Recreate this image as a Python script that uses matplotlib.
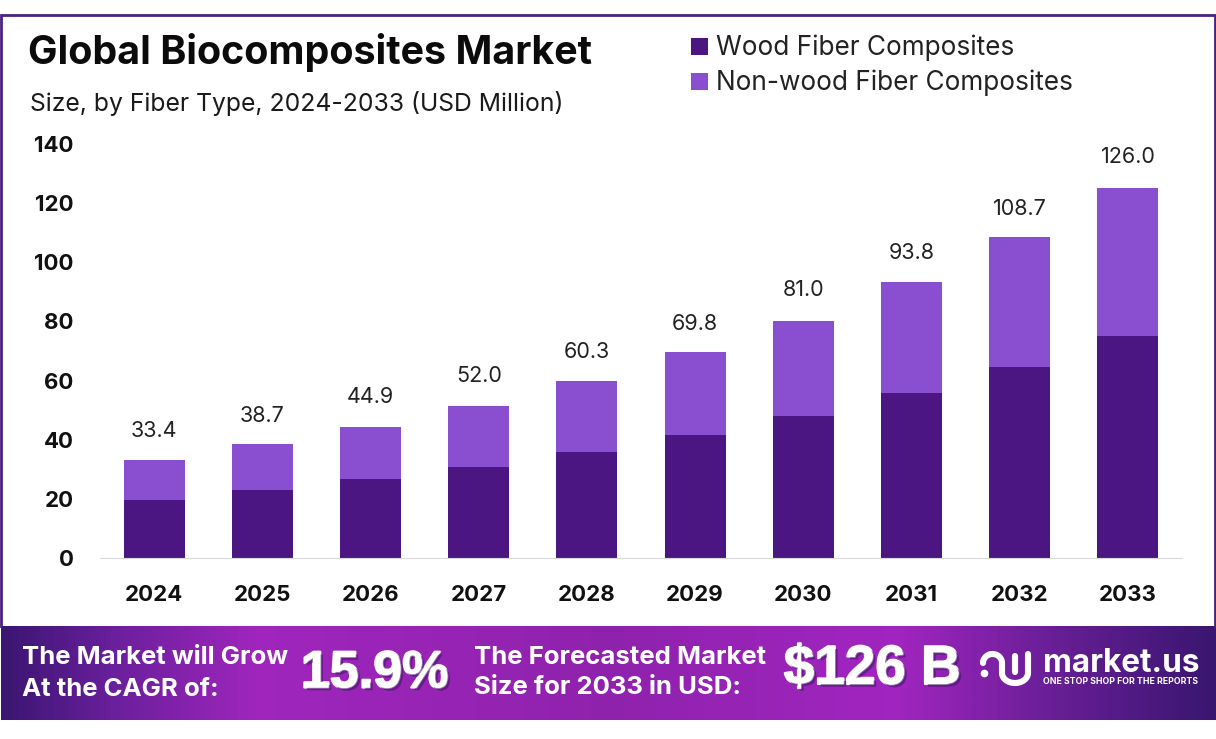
import matplotlib
matplotlib.use("Agg")
import matplotlib.pyplot as plt
import matplotlib.patheffects as pe
from matplotlib.colors import LinearSegmentedColormap
import numpy as np

years = ["2024", "2025", "2026", "2027", "2028", "2029", "2030", "2031", "2032", "2033"]
wood = [19.6, 23.0, 26.7, 30.8, 35.9, 41.6, 48.0, 55.8, 64.6, 75.1]
non_wood = [13.5, 15.4, 17.5, 20.5, 24.1, 27.9, 32.3, 37.7, 43.8, 49.9]
totals = [33.4, 38.7, 44.9, 52.0, 60.3, 69.8, 81.0, 93.8, 108.7, 126.0]
y_ticks = [0, 20, 40, 60, 80, 100, 120, 140]

DARK = "#4c1682"
LIGHT = "#8a4fd0"
FRAME = "#4a2183"
FONT = "Inter"
W, H = 1216, 739

plt.rcParams["font.family"] = [FONT, "DejaVu Sans"]
fig = plt.figure(figsize=(W / 100, H / 100), dpi=100, facecolor="white")

# overlay in pixel coordinates for frame, banner and headings
bg = fig.add_axes([0, 0, 1, 1])
bg.set_xlim(0, W)
bg.set_ylim(H, 0)
bg.axis("off")

# frame
bg.plot([1, 1, 1214.5, 1214.5], [626, 15, 15, 626], color=FRAME, lw=2, solid_joinstyle="miter")

# banner gradient
stops = [(0.0, "#3b1672"), (0.09, "#6a1f9c"), (0.21, "#a026bd"), (0.5, "#8f22ad"),
         (0.74, "#a125c0"), (0.86, "#6b1f98"), (1.0, "#3a1670")]
cmap = LinearSegmentedColormap.from_list("banner", stops)
bg.imshow(np.linspace(0, 1, 600)[None, :], cmap=cmap, aspect="auto", extent=[1, W, 720, 626], zorder=1)
bg.set_xlim(0, W)
bg.set_ylim(H, 0)

# headings
bg.text(28, 52, "Global Biocomposites Market", fontsize=28.4, fontweight="bold", color="#0b0b0b",
        va="center", ha="left")
bg.text(30, 103, "Size, by Fiber Type, 2024-2033 (USD Million)", fontsize=17.8, color="#1a1a1a",
        va="center", ha="left")

# legend
for y, c, label in [(46, DARK, "Wood Fiber Composites"), (81, LIGHT, "Non-wood Fiber Composites")]:
    bg.add_patch(plt.Rectangle((691, y - 8.5), 17, 17, color=c, lw=0))
    bg.text(716, y + 1.5, label, fontsize=18.85, color="#222222", va="center", ha="left")

# banner text
for x, y, s in [(22, 658, "The Market will Grow"), (22, 689, "At the CAGR of:"),
                (474, 657, "The Forecasted Market"), (474, 688, "Size for 2033 in USD:")]:
    bg.text(x, y, s, fontsize=18.5, fontweight="bold", color="white", va="center", ha="left", zorder=3)

big = [pe.withStroke(linewidth=1.5, foreground="white"),
       pe.withSimplePatchShadow(offset=(2, -2), shadow_rgbFace="#3a1060", alpha=0.5), pe.Normal()]
bg.text(301, 674, "15.9%", fontsize=37.5, fontweight="bold", family="Liberation Sans", color="white",
        va="center", ha="left", path_effects=big, zorder=3)
bg.text(784, 670, "$126 B", fontsize=39.5, fontweight="bold", family="Liberation Sans", color="white",
        va="center", ha="left", path_effects=big, zorder=3)

# logo
t = np.linspace(np.pi, 0, 30)
logo = dict(color="white", lw=4.4, zorder=3)
bg.plot(983.5, 673, "o", color="white", ms=4.5, zorder=3)
bg.plot(992.5 + 9.5 * np.cos(t), 663 - 9 * np.sin(t), solid_capstyle="round", **logo)
bg.plot([1002, 1002], [663, 673], solid_capstyle="butt", **logo)
bg.plot(1015 + 13 * np.cos(t), 673 + 10 * np.sin(t), solid_capstyle="round", **logo)
bg.plot([1015, 1015], [656, 672], solid_capstyle="round", **logo)
bg.plot([1028, 1028], [654, 673], solid_capstyle="round", **logo)
bg.text(1043, 671.5, "market.us", fontsize=22.7, fontweight="bold", color="white", va="baseline", ha="left", zorder=3)
bg.text(1043, 684, "ONE STOP SHOP FOR THE REPORTS", fontsize=6.3, fontweight="bold", color="white",
        va="baseline", ha="left", zorder=3)

# chart
ax = fig.add_axes([100 / W, 1 - 558 / H, 1082 / W, (558 - 144) / H])
ax.patch.set_alpha(0)
x = np.arange(len(years))
ax.bar(x, wood, width=0.565, color=DARK, zorder=2)
ax.bar(x, non_wood, bottom=wood, width=0.565, color=LIGHT, zorder=2)
for xi, total in zip(x, totals):
    ax.annotate(f"{total:.1f}", (xi, total), xytext=(0, 18), textcoords="offset pixels", ha="center",
                va="bottom", fontsize=15.5, color="#222222")
ax.set_xlim(-0.5, 9.5)
ax.set_ylim(0, 140)
ax.set_xticks(x, years)
ax.set_yticks(y_ticks)
for side in ["top", "left", "right"]:
    ax.spines[side].set_visible(False)
ax.spines["bottom"].set_color("#d9d9d9")
ax.tick_params(axis="both", length=0)
ax.tick_params(axis="x", pad=19.5)
ax.tick_params(axis="y", pad=19)
for lab in ax.get_xticklabels() + ax.get_yticklabels():
    lab.set_fontsize(16)
    lab.set_fontweight("bold")
    lab.set_color("#111111")

fig.savefig("out.png", dpi=100)
